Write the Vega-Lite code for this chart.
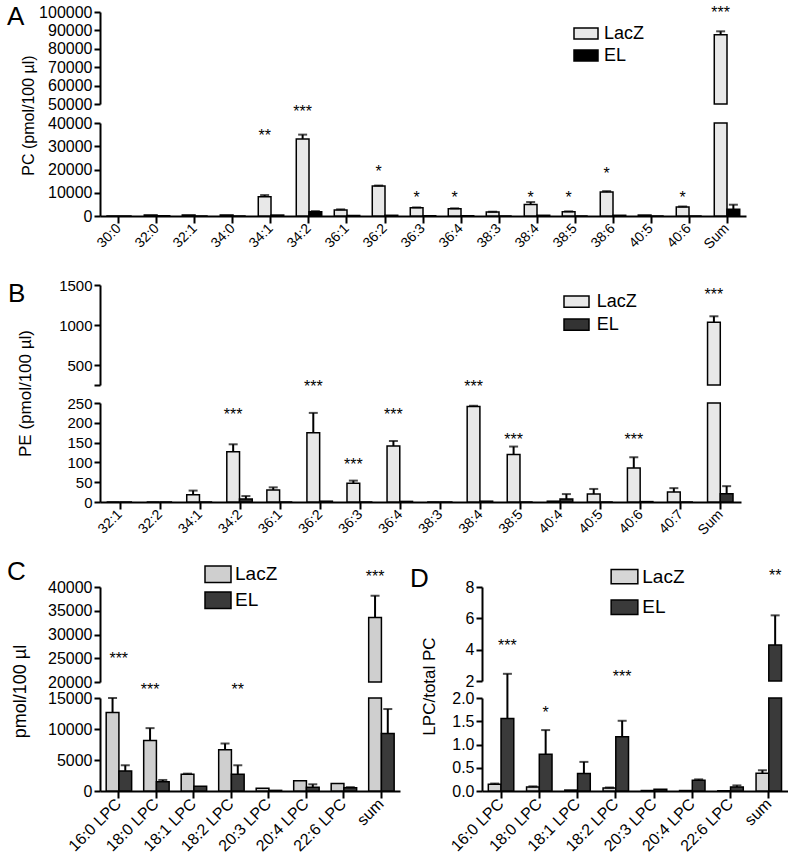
{
"$schema": "https://vega.github.io/schema/vega-lite/v6.json",
"padding": {"left": 7, "top": 4, "right": 0, "bottom": 0},
"config": {
 "view": {"stroke": null},
 "font": "Liberation Sans",
 "axis": {"domainColor": "black", "domainWidth": 2, "tickColor": "black", "tickWidth": 2, "tickSize": 6, "labelColor": "black", "labelFont": "Liberation Sans", "titleFont": "Liberation Sans", "titleFontWeight": "normal", "titleColor": "black", "grid": false, "labelPadding": 2, "labelOverlap": false, "labelFlush": false},
 "legend": {"orient": "none", "title": null, "padding": 0, "symbolStrokeColor": "black", "symbolStrokeWidth": 1.5, "labelFont": "Liberation Sans", "labelColor": "black"},
 "title": {"anchor": "start", "frame": "group", "fontSize": 26, "fontWeight": "normal", "font": "Liberation Sans", "color": "black", "offset": 0, "baseline": "alphabetic"},
 "text": {"font": "Liberation Sans"}
},
"datasets": {
 "pc": [
  {"cat":"30:0","group":"LacZ","value":0},{"cat":"30:0","group":"EL","value":0},
  {"cat":"32:0","group":"LacZ","value":430},{"cat":"32:0","group":"EL","value":100},
  {"cat":"32:1","group":"LacZ","value":430},{"cat":"32:1","group":"EL","value":0},
  {"cat":"34:0","group":"LacZ","value":400},{"cat":"34:0","group":"EL","value":0},
  {"cat":"34:1","group":"LacZ","value":8290,"err":9000},{"cat":"34:1","group":"EL","value":400},
  {"cat":"34:2","group":"LacZ","value":33150,"err":35000},{"cat":"34:2","group":"EL","value":1860,"err":2100},
  {"cat":"36:1","group":"LacZ","value":2570,"err":2860},{"cat":"36:1","group":"EL","value":200},
  {"cat":"36:2","group":"LacZ","value":12860,"err":13100},{"cat":"36:2","group":"EL","value":300},
  {"cat":"36:3","group":"LacZ","value":3500,"err":3700},{"cat":"36:3","group":"EL","value":100},
  {"cat":"36:4","group":"LacZ","value":3140,"err":3300},{"cat":"36:4","group":"EL","value":100},
  {"cat":"38:3","group":"LacZ","value":1700,"err":1850},{"cat":"38:3","group":"EL","value":0},
  {"cat":"38:4","group":"LacZ","value":5000,"err":6000},{"cat":"38:4","group":"EL","value":300},
  {"cat":"38:5","group":"LacZ","value":1860,"err":2000},{"cat":"38:5","group":"EL","value":0},
  {"cat":"38:6","group":"LacZ","value":10290,"err":10700},{"cat":"38:6","group":"EL","value":300},
  {"cat":"40:5","group":"LacZ","value":400},{"cat":"40:5","group":"EL","value":0},
  {"cat":"40:6","group":"LacZ","value":3860,"err":4100},{"cat":"40:6","group":"EL","value":0},
  {"cat":"Sum","group":"LacZ","value":87660,"err":89500},{"cat":"Sum","group":"EL","value":2860,"err":4860}
 ],
 "pcStars": [
  {"cat":"34:1","group":"LacZ","y":36000,"label":"**","seg":"bottom"},
  {"cat":"34:2","group":"LacZ","y":46600,"label":"***","seg":"bottom"},
  {"cat":"36:2","group":"LacZ","y":20700,"label":"*","seg":"bottom"},
  {"cat":"36:3","group":"LacZ","y":9300,"label":"*","seg":"bottom"},
  {"cat":"36:4","group":"LacZ","y":9300,"label":"*","seg":"bottom"},
  {"cat":"38:4","group":"LacZ","y":9300,"label":"*","seg":"bottom"},
  {"cat":"38:5","group":"LacZ","y":9300,"label":"*","seg":"bottom"},
  {"cat":"38:6","group":"LacZ","y":19700,"label":"*","seg":"bottom"},
  {"cat":"40:6","group":"LacZ","y":9300,"label":"*","seg":"bottom"},
  {"cat":"Sum","group":"LacZ","y":101600,"label":"***","seg":"top"}
 ],
 "pe": [
  {"cat":"32:1","group":"LacZ","value":0},{"cat":"32:1","group":"EL","value":0},
  {"cat":"32:2","group":"LacZ","value":0},{"cat":"32:2","group":"EL","value":0},
  {"cat":"34:1","group":"LacZ","value":18.6,"err":28.8},{"cat":"34:1","group":"EL","value":0},
  {"cat":"34:2","group":"LacZ","value":127,"err":145.7},{"cat":"34:2","group":"EL","value":7.6,"err":15},
  {"cat":"36:1","group":"LacZ","value":30.5,"err":37},{"cat":"36:1","group":"EL","value":0},
  {"cat":"36:2","group":"LacZ","value":175,"err":225},{"cat":"36:2","group":"EL","value":2},
  {"cat":"36:3","group":"LacZ","value":47.4,"err":54},{"cat":"36:3","group":"EL","value":0},
  {"cat":"36:4","group":"LacZ","value":141.5,"err":154},{"cat":"36:4","group":"EL","value":1.5},
  {"cat":"38:3","group":"LacZ","value":0},{"cat":"38:3","group":"EL","value":0},
  {"cat":"38:4","group":"LacZ","value":241,"err":243},{"cat":"38:4","group":"EL","value":2},
  {"cat":"38:5","group":"LacZ","value":120,"err":140},{"cat":"38:5","group":"EL","value":0},
  {"cat":"40:4","group":"LacZ","value":2},{"cat":"40:4","group":"EL","value":7.6,"err":20},
  {"cat":"40:5","group":"LacZ","value":20,"err":33},{"cat":"40:5","group":"EL","value":0},
  {"cat":"40:6","group":"LacZ","value":86,"err":113},{"cat":"40:6","group":"EL","value":1},
  {"cat":"40:7","group":"LacZ","value":25,"err":35},{"cat":"40:7","group":"EL","value":0},
  {"cat":"Sum","group":"LacZ","value":1034,"err":1109},{"cat":"Sum","group":"EL","value":21,"err":40}
 ],
 "peStars": [
  {"cat":"34:2","group":"LacZ","y":230,"label":"***","seg":"bottom"},
  {"cat":"36:2","group":"LacZ","y":300,"label":"***","seg":"bottom"},
  {"cat":"36:3","group":"LacZ","y":103,"label":"***","seg":"bottom"},
  {"cat":"36:4","group":"LacZ","y":229,"label":"***","seg":"bottom"},
  {"cat":"38:4","group":"LacZ","y":300,"label":"***","seg":"bottom"},
  {"cat":"38:5","group":"LacZ","y":167,"label":"***","seg":"bottom"},
  {"cat":"40:6","group":"LacZ","y":167,"label":"***","seg":"bottom"},
  {"cat":"Sum","group":"LacZ","y":1429,"label":"***","seg":"top"}
 ],
 "lpc": [
  {"cat":"16:0 LPC","group":"LacZ","value":12680,"err":15000},{"cat":"16:0 LPC","group":"EL","value":3240,"err":4150},
  {"cat":"18:0 LPC","group":"LacZ","value":8150,"err":10140},{"cat":"18:0 LPC","group":"EL","value":1510,"err":1780},
  {"cat":"18:1 LPC","group":"LacZ","value":2700,"err":2800},{"cat":"18:1 LPC","group":"EL","value":755},
  {"cat":"18:2 LPC","group":"LacZ","value":6640,"err":7660},{"cat":"18:2 LPC","group":"EL","value":2700,"err":4150},
  {"cat":"20:3 LPC","group":"LacZ","value":430},{"cat":"20:3 LPC","group":"EL","value":100},
  {"cat":"20:4 LPC","group":"LacZ","value":1670},{"cat":"20:4 LPC","group":"EL","value":590,"err":1080},
  {"cat":"22:6 LPC","group":"LacZ","value":1190},{"cat":"22:6 LPC","group":"EL","value":540,"err":620},
  {"cat":"sum","group":"LacZ","value":33600,"err":38160},{"cat":"sum","group":"EL","value":9280,"err":13220}
 ],
 "lpcStars": [
  {"cat":"16:0 LPC","group":"mid","y":25640,"label":"***","seg":"top"},
  {"cat":"18:0 LPC","group":"LacZ","y":17000,"label":"***","seg":"bottom"},
  {"cat":"18:2 LPC","group":"EL","y":17000,"label":"**","seg":"bottom"},
  {"cat":"sum","group":"LacZ","y":42960,"label":"***","seg":"top"}
 ],
 "ratio": [
  {"cat":"16:0 LPC","group":"LacZ","value":0.144,"err":0.16},{"cat":"16:0 LPC","group":"EL","value":1.56,"err":2.52},
  {"cat":"18:0 LPC","group":"LacZ","value":0.086,"err":0.1},{"cat":"18:0 LPC","group":"EL","value":0.79,"err":1.31},
  {"cat":"18:1 LPC","group":"LacZ","value":0.02},{"cat":"18:1 LPC","group":"EL","value":0.374,"err":0.626},
  {"cat":"18:2 LPC","group":"LacZ","value":0.065,"err":0.075},{"cat":"18:2 LPC","group":"EL","value":1.165,"err":1.51},
  {"cat":"20:3 LPC","group":"LacZ","value":0.01},{"cat":"20:3 LPC","group":"EL","value":0.036},
  {"cat":"20:4 LPC","group":"LacZ","value":0.01},{"cat":"20:4 LPC","group":"EL","value":0.23,"err":0.25},
  {"cat":"22:6 LPC","group":"LacZ","value":0.005},{"cat":"22:6 LPC","group":"EL","value":0.086,"err":0.12},
  {"cat":"sum","group":"LacZ","value":0.38,"err":0.446},{"cat":"sum","group":"EL","value":4.3,"err":6.19}
 ],
 "ratioStars": [
  {"cat":"16:0 LPC","group":"EL","y":4.47,"label":"***","seg":"top"},
  {"cat":"18:0 LPC","group":"EL","y":1.76,"label":"*","seg":"bottom"},
  {"cat":"18:2 LPC","group":"EL","y":2.53,"label":"***","seg":"bottom"},
  {"cat":"sum","group":"EL","y":8.96,"label":"**","seg":"top"}
 ]
},
"resolve": {"scale": {"fill": "independent", "x": "independent", "y": "independent"}, "legend": {"fill": "independent"}},
"spacing": 20,
"vconcat": [
 {
 "spacing": 26,
 "resolve": {"scale": {"fill": "independent", "x": "independent", "y": "independent"}, "legend": {"fill": "independent"}},
 "vconcat": [
 {
  "width": 646, "height": 204,
  "title": {"text": "A", "dx": -93, "dy": 30},
  "data": {"name": "pc"},
  "resolve": {"scale": {"y": "independent"}, "axis": {"y": "independent"}},
  "encoding": {"x": {"field": "cat", "type": "nominal", "scale": {"domain": ["30:0","32:0","32:1","34:0","34:1","34:2","36:1","36:2","36:3","36:4","38:3","38:4","38:5","38:6","40:5","40:6","Sum"], "paddingInner": 0.33, "paddingOuter": 0.165}, "axis": {"title": null, "labelAngle": -45, "labelAlign": "right", "labelBaseline": "middle", "labelFontSize": 14, "tickSize": 7, "labelPadding": 3}}},
  "layer": [
   {"transform": [{"filter": "datum.value > 50000"}],
    "mark": {"type": "bar", "stroke": "black", "strokeWidth": 1.5},
    "encoding": {
     "xOffset": {"field": "group", "type": "nominal", "scale": {"domain": ["LacZ","EL"]}},
     "y": {"field": "value", "type": "quantitative", "scale": {"domain": [50000, 100000], "range": [92, 0], "clamp": true, "nice": false, "zero": false}, "axis": {"orient": "left", "values": [50000,60000,70000,80000,90000,100000], "format": "d", "labelFontSize": 16, "title": null}},
     "y2": {"datum": 0},
     "fill": {"field": "group", "type": "nominal", "scale": {"domain": ["LacZ","EL"], "range": ["#e8e8e8", "#000000"]}, "legend": {"legendX": 473, "legendY": 8.5, "symbolType": "M-1,-0.458H1V0.458H-1Z", "symbolSize": 576, "labelFontSize": 18, "labelOffset": 5, "rowPadding": -1}}
    }},
   {"mark": {"type": "bar", "stroke": "black", "strokeWidth": 1.5},
    "encoding": {
     "xOffset": {"field": "group", "type": "nominal", "scale": {"domain": ["LacZ","EL"]}},
     "y": {"field": "value", "type": "quantitative", "scale": {"domain": [0, 40000], "range": [204, 111], "clamp": true, "nice": false}, "axis": {"orient": "left", "values": [0,10000,20000,30000,40000], "format": "d", "labelFontSize": 16, "title": "PC (pmol/100 µl)", "titleFontSize": 16, "titleX": -72, "titleY": 103, "titleAngle": -90, "titleAlign": "center", "titleBaseline": "middle"}},
     "y2": {"datum": 0},
     "fill": {"field": "group", "type": "nominal", "scale": {"domain": ["LacZ","EL"], "range": ["#e8e8e8", "#000000"]}, "legend": {"legendX": 473, "legendY": 8.5, "symbolType": "M-1,-0.458H1V0.458H-1Z", "symbolSize": 576, "labelFontSize": 18, "labelOffset": 5, "rowPadding": -1}}
    }},
   {"layer": [
     {"transform": [{"filter": "isValid(datum.err) && datum.value > 50000"}],
      "mark": {"type": "rule", "strokeWidth": 2, "color": "black"},
      "encoding": {"xOffset": {"field": "group", "type": "nominal"}, "y": {"field": "value", "type": "quantitative", "scale": {"domain": [50000, 100000], "range": [92, 0], "nice": false, "zero": false}, "axis": null}, "y2": {"field": "err"}}},
     {"transform": [{"filter": "isValid(datum.err) && datum.value > 50000"}],
      "mark": {"type": "tick", "size": 9, "thickness": 2, "color": "black"},
      "encoding": {"xOffset": {"field": "group", "type": "nominal"}, "y": {"field": "err", "type": "quantitative", "axis": null}}},
     {"data": {"name": "pcStars"}, "transform": [{"filter": "datum.seg == 'top'"}],
      "mark": {"type": "text", "fontSize": 16, "baseline": "alphabetic", "dy": 9, "color": "black"},
      "encoding": {"xOffset": {"field": "group", "type": "nominal"}, "y": {"field": "y", "type": "quantitative", "axis": null}, "text": {"field": "label"}}}
   ]},
   {"layer": [
     {"transform": [{"filter": "isValid(datum.err) && datum.value <= 40000"}],
      "mark": {"type": "rule", "strokeWidth": 2, "color": "black"},
      "encoding": {"xOffset": {"field": "group", "type": "nominal"}, "y": {"field": "value", "type": "quantitative", "scale": {"domain": [0, 40000], "range": [204, 111], "nice": false}, "axis": null}, "y2": {"field": "err"}}},
     {"transform": [{"filter": "isValid(datum.err) && datum.value <= 40000"}],
      "mark": {"type": "tick", "size": 9, "thickness": 2, "color": "black"},
      "encoding": {"xOffset": {"field": "group", "type": "nominal"}, "y": {"field": "err", "type": "quantitative", "axis": null}}},
     {"data": {"name": "pcStars"}, "transform": [{"filter": "datum.seg == 'bottom'"}],
      "mark": {"type": "text", "fontSize": 16, "baseline": "alphabetic", "dy": 9, "color": "black"},
      "encoding": {"xOffset": {"field": "group", "type": "nominal"}, "y": {"field": "y", "type": "quantitative", "axis": null}, "text": {"field": "label"}}}
   ]}
  ]
 },
 {
  "width": 641, "height": 217,
  "title": {"text": "B", "dx": -92, "dy": 33},
  "data": {"name": "pe"},
  "resolve": {"scale": {"y": "independent"}, "axis": {"y": "independent"}},
  "encoding": {"x": {"field": "cat", "type": "nominal", "scale": {"domain": ["32:1","32:2","34:1","34:2","36:1","36:2","36:3","36:4","38:3","38:4","38:5","40:4","40:5","40:6","40:7","Sum"], "paddingInner": 0.33, "paddingOuter": 0.165}, "axis": {"title": null, "labelAngle": -45, "labelAlign": "right", "labelBaseline": "middle", "labelFontSize": 14, "tickSize": 7, "labelPadding": 3}}},
  "layer": [
   {"transform": [{"filter": "datum.value > 250"}],
    "mark": {"type": "bar", "stroke": "black", "strokeWidth": 1.5},
    "encoding": {
     "xOffset": {"field": "group", "type": "nominal", "scale": {"domain": ["LacZ","EL"]}},
     "y": {"field": "value", "type": "quantitative", "scale": {"domain": [250, 1500], "range": [100, 0], "clamp": true, "nice": false, "zero": false}, "axis": {"orient": "left", "values": [250,500,1000,1500], "labelExpr": "datum.value == 250 ? '' : datum.label", "format": "d", "labelFontSize": 15, "title": null}},
     "y2": {"datum": 0},
     "fill": {"field": "group", "type": "nominal", "scale": {"domain": ["LacZ","EL"], "range": ["#e8e8e8", "#333333"]}, "legend": {"legendX": 463, "legendY": 3.2, "symbolType": "M-1,-0.45H1V0.45H-1Z", "symbolSize": 625, "labelFontSize": 18, "labelOffset": 6.7, "rowPadding": -3.3}}
    }},
   {"mark": {"type": "bar", "stroke": "black", "strokeWidth": 1.5},
    "encoding": {
     "xOffset": {"field": "group", "type": "nominal", "scale": {"domain": ["LacZ","EL"]}},
     "y": {"field": "value", "type": "quantitative", "scale": {"domain": [0, 250], "range": [217, 118], "clamp": true, "nice": false}, "axis": {"orient": "left", "values": [0,50,100,150,200,250], "format": "d", "labelFontSize": 15, "title": "PE (pmol/100 µl)", "titleFontSize": 17, "titleX": -75, "titleY": 108, "titleAngle": -90, "titleAlign": "center", "titleBaseline": "middle"}},
     "y2": {"datum": 0},
     "fill": {"field": "group", "type": "nominal", "scale": {"domain": ["LacZ","EL"], "range": ["#e8e8e8", "#333333"]}, "legend": {"legendX": 463, "legendY": 3.2, "symbolType": "M-1,-0.45H1V0.45H-1Z", "symbolSize": 625, "labelFontSize": 18, "labelOffset": 6.7, "rowPadding": -3.3}}
    }},
   {"layer": [
     {"transform": [{"filter": "isValid(datum.err) && datum.value > 250"}],
      "mark": {"type": "rule", "strokeWidth": 2, "color": "black"},
      "encoding": {"xOffset": {"field": "group", "type": "nominal"}, "y": {"field": "value", "type": "quantitative", "scale": {"domain": [250, 1500], "range": [100, 0], "nice": false, "zero": false}, "axis": null}, "y2": {"field": "err"}}},
     {"transform": [{"filter": "isValid(datum.err) && datum.value > 250"}],
      "mark": {"type": "tick", "size": 9, "thickness": 2, "color": "black"},
      "encoding": {"xOffset": {"field": "group", "type": "nominal"}, "y": {"field": "err", "type": "quantitative", "axis": null}}},
     {"data": {"name": "peStars"}, "transform": [{"filter": "datum.seg == 'top'"}],
      "mark": {"type": "text", "fontSize": 16, "baseline": "alphabetic", "dy": 9, "color": "black"},
      "encoding": {"xOffset": {"field": "group", "type": "nominal"}, "y": {"field": "y", "type": "quantitative", "axis": null}, "text": {"field": "label"}}}
   ]},
   {"layer": [
     {"transform": [{"filter": "isValid(datum.err) && datum.value <= 250"}],
      "mark": {"type": "rule", "strokeWidth": 2, "color": "black"},
      "encoding": {"xOffset": {"field": "group", "type": "nominal"}, "y": {"field": "value", "type": "quantitative", "scale": {"domain": [0, 250], "range": [217, 118], "nice": false}, "axis": null}, "y2": {"field": "err"}}},
     {"transform": [{"filter": "isValid(datum.err) && datum.value <= 250"}],
      "mark": {"type": "tick", "size": 9, "thickness": 2, "color": "black"},
      "encoding": {"xOffset": {"field": "group", "type": "nominal"}, "y": {"field": "err", "type": "quantitative", "axis": null}}},
     {"data": {"name": "peStars"}, "transform": [{"filter": "datum.seg == 'bottom'"}],
      "mark": {"type": "text", "fontSize": 16, "baseline": "alphabetic", "dy": 9, "color": "black"},
      "encoding": {"xOffset": {"field": "group", "type": "nominal"}, "y": {"field": "y", "type": "quantitative", "axis": null}, "text": {"field": "label"}}}
   ]}
  ]
 }
 ]
 },
 {
  "spacing": 10,
  "resolve": {"scale": {"fill": "independent", "x": "independent", "y": "independent"}, "legend": {"fill": "independent"}},
  "hconcat": [
   {
    "width": 300, "height": 204,
    "title": {"text": "C", "dx": -93, "dy": 28.3},
    "data": {"name": "lpc"},
    "resolve": {"scale": {"y": "independent"}, "axis": {"y": "independent"}},
    "encoding": {"x": {"field": "cat", "type": "nominal", "scale": {"domain": ["16:0 LPC","18:0 LPC","18:1 LPC","18:2 LPC","20:3 LPC","20:4 LPC","22:6 LPC","sum"], "paddingInner": 0.33, "paddingOuter": 0.165}, "axis": {"title": null, "labelAngle": -45, "labelAlign": "right", "labelBaseline": "middle", "labelFontSize": 16, "tickSize": 7, "labelPadding": 3}}},
    "layer": [
     {"transform": [{"filter": "datum.value > 20000"}],
      "mark": {"type": "bar", "stroke": "black", "strokeWidth": 1.5},
      "encoding": {
       "xOffset": {"field": "group", "type": "nominal", "scale": {"domain": ["LacZ","EL"]}},
       "y": {"field": "value", "type": "quantitative", "scale": {"domain": [20000, 40000], "range": [95, 0], "clamp": true, "nice": false, "zero": false}, "axis": {"orient": "left", "values": [20000,25000,30000,35000,40000], "format": "d", "labelFontSize": 16, "title": null}},
       "y2": {"datum": 0},
       "fill": {"field": "group", "type": "nominal", "scale": {"domain": ["LacZ","EL"], "range": ["#cfcfcf", "#3a3a3a"]}, "legend": {"legendX": 104, "legendY": -26.7, "symbolType": "M-1,-0.64H1V0.64H-1Z", "symbolSize": 676, "labelFontSize": 19, "labelOffset": 3, "rowPadding": -4}}
      }},
     {"mark": {"type": "bar", "stroke": "black", "strokeWidth": 1.5},
      "encoding": {
       "xOffset": {"field": "group", "type": "nominal", "scale": {"domain": ["LacZ","EL"]}},
       "y": {"field": "value", "type": "quantitative", "scale": {"domain": [0, 15000], "range": [204, 111], "clamp": true, "nice": false}, "axis": {"orient": "left", "values": [0,5000,10000,15000], "format": "d", "labelFontSize": 16, "title": "pmol/100 µl", "titleFontSize": 18, "titleX": -80, "titleY": 104, "titleAngle": -90, "titleAlign": "center", "titleBaseline": "middle"}},
       "y2": {"datum": 0},
       "fill": {"field": "group", "type": "nominal", "scale": {"domain": ["LacZ","EL"], "range": ["#cfcfcf", "#3a3a3a"]}, "legend": {"legendX": 104, "legendY": -26.7, "symbolType": "M-1,-0.64H1V0.64H-1Z", "symbolSize": 676, "labelFontSize": 19, "labelOffset": 3, "rowPadding": -4}}
      }},
     {"layer": [
       {"transform": [{"filter": "isValid(datum.err) && datum.value > 20000"}],
        "mark": {"type": "rule", "strokeWidth": 2, "color": "black"},
        "encoding": {"xOffset": {"field": "group", "type": "nominal"}, "y": {"field": "value", "type": "quantitative", "scale": {"domain": [20000, 40000], "range": [95, 0], "nice": false, "zero": false}, "axis": null}, "y2": {"field": "err"}}},
       {"transform": [{"filter": "isValid(datum.err) && datum.value > 20000"}],
        "mark": {"type": "tick", "size": 9, "thickness": 2, "color": "black"},
        "encoding": {"xOffset": {"field": "group", "type": "nominal"}, "y": {"field": "err", "type": "quantitative", "axis": null}}},
       {"data": {"name": "lpcStars"}, "transform": [{"filter": "datum.seg == 'top' && datum.group != 'mid'"}],
        "mark": {"type": "text", "fontSize": 16, "baseline": "alphabetic", "dy": 9, "color": "black"},
        "encoding": {"xOffset": {"field": "group", "type": "nominal"}, "y": {"field": "y", "type": "quantitative", "axis": null}, "text": {"field": "label"}}},
       {"data": {"name": "lpcStars"}, "transform": [{"filter": "datum.seg == 'top' && datum.group == 'mid'"}],
        "mark": {"type": "text", "fontSize": 16, "baseline": "alphabetic", "dy": 9, "color": "black"},
        "encoding": {"y": {"field": "y", "type": "quantitative", "axis": null}, "text": {"field": "label"}}}
     ]},
     {"layer": [
       {"transform": [{"filter": "isValid(datum.err) && datum.value <= 15000"}],
        "mark": {"type": "rule", "strokeWidth": 2, "color": "black"},
        "encoding": {"xOffset": {"field": "group", "type": "nominal"}, "y": {"field": "value", "type": "quantitative", "scale": {"domain": [0, 15000], "range": [204, 111], "nice": false}, "axis": null}, "y2": {"field": "err"}}},
       {"transform": [{"filter": "isValid(datum.err) && datum.value <= 15000"}],
        "mark": {"type": "tick", "size": 9, "thickness": 2, "color": "black"},
        "encoding": {"xOffset": {"field": "group", "type": "nominal"}, "y": {"field": "err", "type": "quantitative", "axis": null}}},
       {"data": {"name": "lpcStars"}, "transform": [{"filter": "datum.seg == 'bottom'"}],
        "mark": {"type": "text", "fontSize": 16, "baseline": "alphabetic", "dy": 9, "color": "black"},
        "encoding": {"xOffset": {"field": "group", "type": "nominal"}, "y": {"field": "y", "type": "quantitative", "axis": null}, "text": {"field": "label"}}}
     ]}
    ]
   },
   {
    "width": 306, "height": 204,
    "title": {"text": "D", "dx": -72, "dy": 34.3},
    "data": {"name": "ratio"},
    "resolve": {"scale": {"y": "independent"}, "axis": {"y": "independent"}},
    "encoding": {"x": {"field": "cat", "type": "nominal", "scale": {"domain": ["16:0 LPC","18:0 LPC","18:1 LPC","18:2 LPC","20:3 LPC","20:4 LPC","22:6 LPC","sum"], "paddingInner": 0.33, "paddingOuter": 0.165}, "axis": {"title": null, "labelAngle": -45, "labelAlign": "right", "labelBaseline": "middle", "labelFontSize": 16, "tickSize": 7, "labelPadding": 3}}},
    "layer": [
     {"transform": [{"filter": "datum.value > 2"}],
      "mark": {"type": "bar", "stroke": "black", "strokeWidth": 1.5},
      "encoding": {
       "xOffset": {"field": "group", "type": "nominal", "scale": {"domain": ["LacZ","EL"]}},
       "y": {"field": "value", "type": "quantitative", "scale": {"domain": [2, 8], "range": [94, 0], "clamp": true, "nice": false, "zero": false}, "axis": {"orient": "left", "values": [2,4,6,8], "format": "d", "labelFontSize": 16, "title": null}},
       "y2": {"datum": 0},
       "fill": {"field": "group", "type": "nominal", "scale": {"domain": ["LacZ","EL"], "range": ["#d6d6d6", "#3a3a3a"]}, "legend": {"legendX": 128, "legendY": -24.85, "symbolType": "M-1,-0.54H1V0.54H-1Z", "symbolSize": 713, "labelFontSize": 19, "labelOffset": 3.3, "rowPadding": 5.6}}
      }},
     {"mark": {"type": "bar", "stroke": "black", "strokeWidth": 1.5},
      "encoding": {
       "xOffset": {"field": "group", "type": "nominal", "scale": {"domain": ["LacZ","EL"]}},
       "y": {"field": "value", "type": "quantitative", "scale": {"domain": [0, 2], "range": [204, 111], "clamp": true, "nice": false}, "axis": {"orient": "left", "values": [0,0.5,1,1.5,2], "format": ".1f", "labelFontSize": 16, "title": "LPC/total PC", "titleFontSize": 17, "titleX": -53, "titleY": 99, "titleAngle": -90, "titleAlign": "center", "titleBaseline": "middle"}},
       "y2": {"datum": 0},
       "fill": {"field": "group", "type": "nominal", "scale": {"domain": ["LacZ","EL"], "range": ["#d6d6d6", "#3a3a3a"]}, "legend": {"legendX": 128, "legendY": -24.85, "symbolType": "M-1,-0.54H1V0.54H-1Z", "symbolSize": 713, "labelFontSize": 19, "labelOffset": 3.3, "rowPadding": 5.6}}
      }},
     {"layer": [
       {"transform": [{"filter": "isValid(datum.err) && datum.value > 2"}],
        "mark": {"type": "rule", "strokeWidth": 2, "color": "black"},
        "encoding": {"xOffset": {"field": "group", "type": "nominal"}, "y": {"field": "value", "type": "quantitative", "scale": {"domain": [2, 8], "range": [94, 0], "nice": false, "zero": false}, "axis": null}, "y2": {"field": "err"}}},
       {"transform": [{"filter": "isValid(datum.err) && datum.value > 2"}],
        "mark": {"type": "tick", "size": 9, "thickness": 2, "color": "black"},
        "encoding": {"xOffset": {"field": "group", "type": "nominal"}, "y": {"field": "err", "type": "quantitative", "axis": null}}},
       {"data": {"name": "ratioStars"}, "transform": [{"filter": "datum.seg == 'top'"}],
        "mark": {"type": "text", "fontSize": 16, "baseline": "alphabetic", "dy": 9, "color": "black"},
        "encoding": {"xOffset": {"field": "group", "type": "nominal"}, "y": {"field": "y", "type": "quantitative", "axis": null}, "text": {"field": "label"}}}
     ]},
     {"layer": [
       {"transform": [{"filter": "isValid(datum.err) && datum.value <= 2"}],
        "mark": {"type": "rule", "strokeWidth": 2, "color": "black"},
        "encoding": {"xOffset": {"field": "group", "type": "nominal"}, "y": {"field": "value", "type": "quantitative", "scale": {"domain": [0, 2], "range": [204, 111], "nice": false}, "axis": null}, "y2": {"field": "err"}}},
       {"transform": [{"filter": "isValid(datum.err) && datum.value <= 2"}],
        "mark": {"type": "tick", "size": 9, "thickness": 2, "color": "black"},
        "encoding": {"xOffset": {"field": "group", "type": "nominal"}, "y": {"field": "err", "type": "quantitative", "axis": null}}},
       {"data": {"name": "ratioStars"}, "transform": [{"filter": "datum.seg == 'bottom'"}],
        "mark": {"type": "text", "fontSize": 16, "baseline": "alphabetic", "dy": 9, "color": "black"},
        "encoding": {"xOffset": {"field": "group", "type": "nominal"}, "y": {"field": "y", "type": "quantitative", "axis": null}, "text": {"field": "label"}}}
     ]}
    ]
   }
  ]
 }
]
}
